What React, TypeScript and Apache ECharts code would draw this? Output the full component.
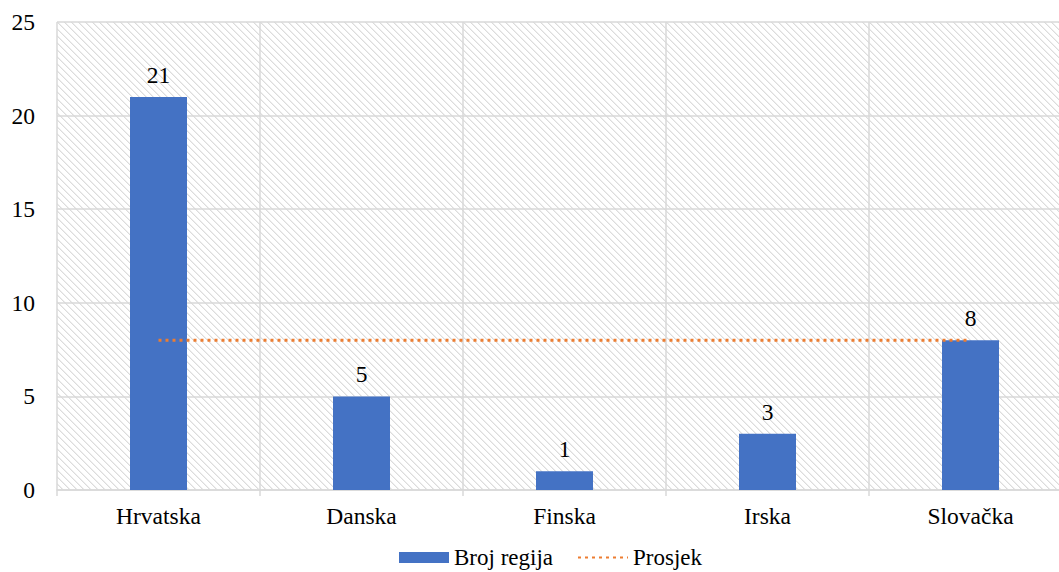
import React, { useEffect, useRef } from "react";
import * as echarts from "echarts";

const categories = ["Hrvatska", "Danska", "Finska", "Irska", "Slovačka"];
const brojRegija = [21, 5, 1, 3, 8];
const prosjek = [8, 8, 8, 8, 8];
const yTicks = { min: 0, max: 25, interval: 5 };
const seriesNames = ["Broj regija", "Prosjek"];

const FONT = "'Liberation Serif', 'Times New Roman', serif";

function makeHatch() {
  const n = 7;
  const c = document.createElement("canvas");
  c.width = n;
  c.height = n;
  const ctx = c.getContext("2d")!;
  ctx.fillStyle = "#ffffff";
  ctx.fillRect(0, 0, n, n);
  for (let i = 0; i < n; i++) {
    ctx.fillStyle = "#dcdcdc";
    ctx.fillRect(i, i, 1, 1);
    ctx.fillStyle = "#eeeeee";
    ctx.fillRect((i + 1) % n, i, 1, 1);
  }
  return c;
}

export default function App() {
  const ref = useRef<HTMLDivElement>(null);
  useEffect(() => {
    document.body.style.margin = "0";
    const chart = echarts.init(ref.current!, undefined, { renderer: "svg" });
    const hatch = makeHatch();
    chart.setOption({
      animation: false,
      textStyle: { fontFamily: FONT },
      grid: {
        left: 57,
        top: 22,
        right: 0,
        bottom: 82,
        show: true,
        borderWidth: 0,
        backgroundColor: {
          image: hatch,
          repeat: "repeat",
          imageWidth: 7,
          imageHeight: 7,
        } as any,
      },
      legend: {
        data: [
          { name: seriesNames[0], icon: "rect" },
          { name: seriesNames[1], itemStyle: { opacity: 0 } },
        ],
        left: 394,
        top: 541,
        itemWidth: 50,
        itemHeight: 11,
        itemGap: 24,
        textStyle: { fontFamily: FONT, fontSize: 23, color: "#000" },
      },
      xAxis: {
        type: "category",
        data: categories,
        axisLine: { lineStyle: { color: "#d9d9d9", width: 1.5 } },
        axisTick: { show: true, length: 6, lineStyle: { color: "#d9d9d9", width: 1.5 } },
        splitLine: { show: true, lineStyle: { color: "#d9d9d9", width: 1.5 } },
        axisLabel: { fontFamily: FONT, fontSize: 23.5, color: "#000", margin: 14 },
      },
      yAxis: {
        type: "value",
        min: yTicks.min,
        max: yTicks.max,
        interval: yTicks.interval,
        axisLine: { show: false },
        axisTick: { show: false },
        splitLine: { show: true, lineStyle: { color: "#d9d9d9", width: 1.5 } },
        axisLabel: { fontFamily: FONT, fontSize: 23.5, color: "#000", margin: 22 },
      },
      series: [
        {
          name: seriesNames[0],
          type: "bar",
          data: brojRegija,
          barWidth: 57,
          itemStyle: { color: "#4472C4" },
          label: {
            show: true,
            position: "top",
            distance: 10,
            fontFamily: FONT,
            fontSize: 23.5,
            color: "#000",
          },
          z: 2,
        },
        {
          name: seriesNames[1],
          type: "line",
          data: prosjek,
          symbol: "none",
          lineStyle: { color: "#ED7D31", width: 3, type: [3, 4] },
          itemStyle: { color: "#ED7D31" },
          z: 3,
        },
      ],
    });
    return () => chart.dispose();
  }, []);
  return (
    <div style={{ width: 1059, height: 572, overflow: "hidden", position: "relative" }}>
      <div ref={ref} style={{ width: 1072, height: 572 }} />
    </div>
  );
}
